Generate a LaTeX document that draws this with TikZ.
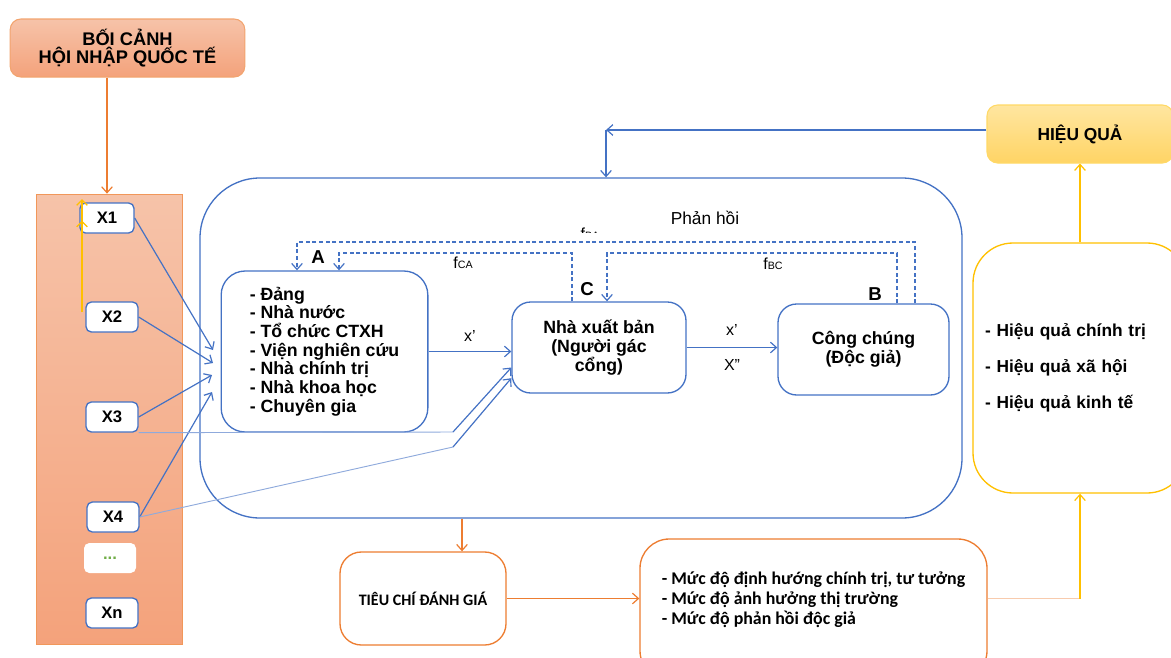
\documentclass[tikz,border=0pt]{standalone}
\usepackage{fontspec}
\setmainfont{Liberation Sans}
\newfontfamily\calibfont{Carlito}
\usepackage{tikz}
\usetikzlibrary{arrows.meta,positioning}

\definecolor{bluel}{HTML}{4472C4}
\definecolor{lightbl}{HTML}{8FAADC}
\definecolor{orl}{HTML}{ED7D31}
\definecolor{lightor}{HTML}{F8CBAD}
\definecolor{yel}{HTML}{FFC000}
\definecolor{saltop}{HTML}{F6C3A9}
\definecolor{salbot}{HTML}{F4A27B}
\definecolor{goldtop}{HTML}{FFE6A0}
\definecolor{goldbot}{HTML}{FFD465}
\definecolor{dotgreen}{HTML}{70AD47}

\begin{document}
\begin{tikzpicture}[x=0.75pt, y=-0.75pt, >={Straight Barb[length=4.5pt,width=8pt]}]
    % Define styles
    \tikzstyle{xbox} = [rectangle, draw=bluel, line width=1pt, fill=white, rounded corners=4pt, minimum width=39pt, minimum height=22.5pt, font=\fontsize{12.5}{14}\selectfont\bfseries]
    \tikzstyle{actor} = [rectangle, draw=bluel, line width=1pt, rounded corners=14pt, align=center, font=\fontsize{13.3}{14}\selectfont\bfseries]
    \tikzstyle{obox} = [rectangle, draw=orl, line width=1pt, fill=white, rounded corners=16pt, font=\calibfont\fontsize{12}{15}\selectfont\bfseries]
    \tikzstyle{tag} = [font=\fontsize{14}{16}\selectfont\bfseries]
    \tikzstyle{lbl} = [font=\fontsize{12}{14}\selectfont]
    \tikzstyle{line} = [draw=bluel, line width=0.9pt, ->]
    \tikzstyle{faint} = [draw=lightbl, line width=0.7pt]
    \tikzstyle{fb} = [draw=bluel, line width=0.9pt, dash pattern=on 3pt off 2pt, ->]
    \tikzstyle{oline} = [draw=orl, line width=0.9pt, ->]
    \tikzstyle{yline} = [draw=yel, line width=0.9pt, ->]

    \useasboundingbox (0,0) rectangle (1171,657);

    % Place nodes
    \node [rectangle, draw=orl!70, line width=0.8pt, rounded corners=8pt, top color=saltop, bottom color=salbot, minimum width=176pt, minimum height=43.5pt, align=center, font=\fontsize{13.7}{14}\selectfont\bfseries] (context) at (127.5,48) {BỐI CẢNH\\HỘI NHẬP QUỐC TẾ};
    \node [rectangle, draw=orl!80, line width=0.8pt, top color=saltop, bottom color=salbot, minimum width=110pt, minimum height=338pt] (factors) at (109.5,419.5) {};
    \node [xbox, minimum width=40.5pt] (x1) at (107,218) {X1};
    \node [xbox] (x2) at (112,317) {X2};
    \node [xbox] (x3) at (112,417) {X3};
    \node [xbox] (x4) at (113,517) {X4};
    \node [xbox, draw=none, text=dotgreen] (xdots) at (110,558) {...};
    \node [xbox] (xn) at (112,613) {Xn};

    \node [rectangle, draw=bluel, line width=1pt, rounded corners=45pt, minimum width=571.5pt, minimum height=255pt] (system) at (581,348) {};
    \node [font=\fontsize{13}{14}\selectfont] (feedback) at (705,218) {Phản hồi};

    \node [actor, rounded corners=18pt, minimum width=155pt, minimum height=120.75pt, align=left] (boxA) at (324.5,351.5) {- Đảng\\- Nhà nước\\- Tổ chức CTXH\\- Viện nghiên cứu\\- Nhà chính trị\\- Nhà khoa học\\- Chuyên gia};
    \node [actor, minimum width=130.5pt, minimum height=68.25pt] (boxC) at (599,347.5) {Nhà xuất bản\\(Người gác\\cổng)};
    \node [actor, minimum width=128.25pt, minimum height=68.25pt] (boxB) at (863.5,349.5) {Công chúng\\(Độc giả)};
    \node [tag] (tagA) at (318,257) {A};
    \node [tag] (tagC) at (587,289) {C};
    \node [tag] (tagB) at (875,294) {B};

    \node [rectangle, draw=yel!60, line width=0.8pt, rounded corners=8pt, top color=goldtop, bottom color=goldbot, minimum width=139.5pt, minimum height=43.5pt, font=\fontsize{13}{14}\selectfont\bfseries] (effect) at (1080,134) {HIỆU QUẢ};
    \node [rectangle, draw=yel, line width=1pt, rounded corners=30pt, text width=142.5pt, inner xsep=9pt, minimum height=187.5pt, align=left, font=\fontsize{13}{27}\selectfont\bfseries] (results) at (1080,368) {- Hiệu quả chính trị\\- Hiệu quả xã hội\\- Hiệu quả kinh tế};

    \node [obox, minimum width=124.5pt, minimum height=69.75pt] (criteria) at (423,598.5) {TIÊU CHÍ ĐÁNH GIÁ};
    \node [obox, rounded corners=22pt, minimum width=260.25pt, minimum height=105.75pt, font=\calibfont\fontsize{13.4}{15}\selectfont\bfseries] (measures) at (813.5,609.5) {\raisebox{6.5pt}[\height][\depth]{\begin{tabular}{@{}l@{}}- Mức độ định hướng chính trị, tư tưởng\\- Mức độ ảnh hưởng thị trường\\- Mức độ phản hồi độc giả\end{tabular}}};

    % Draw edges
    \path [oline] (context.south -| x1) -- (factors.north -| x1);
    \coordinate (ylow) at (82,312);
    \coordinate (yhigh) at (82,199);
    \path [draw=yel, line width=1pt, -{Straight Barb[length=4pt,width=8pt,sep=11pt]Straight Barb[length=4pt,width=8pt]}] (ylow) -- (yhigh);

    \coordinate (in1) at (213,350);
    \coordinate (in2) at (213,363);
    \coordinate (in3) at (212,375);
    \coordinate (in4) at (212,392);
    \path [line] (x1.east) -- (in1);
    \path [line] (x2.east) -- (in2);
    \path [line] (x3.east) -- (in3);
    \path [line] (x4.east) -- (in4);

    \coordinate (bend3) at (453,432);
    \coordinate (bend4) at (453,447);
    \path [faint] (x3.south east) -- (bend3);
    \path [line] (bend3) -- ([yshift=-15pt]boxC.west);
    \path [faint] (x4.east) -- (bend4);
    \path [line] (bend4) -- ([yshift=-23pt]boxC.west);

    \path [line] (boxA.east) -- (boxA.east -| boxC.west) node [lbl, midway, above=4pt] {x’};
    \path [line] (boxC.east) -- (boxC.east -| boxB.west) node [lbl, midway, above=5pt] {x’} node [lbl, midway, below=5pt] {X”};

    \coordinate (baTop) at (297,242);
    \coordinate (caTop) at (339,253);
    \coordinate (bcTop) at (607,253);
    \path [fb] ([xshift=38.6pt]boxB.north) |- (baTop) -- (baTop |- boxA.north);
    \path [fb] ([xshift=-20.25pt]boxC.north) |- (caTop) -- (caTop |- boxA.north);
    \path [fb] ([xshift=25.1pt]boxB.north) |- (bcTop) -- (bcTop |- boxC.north);
    \node [lbl] (fCA) at (463,263) {f{\fontsize{8}{9}\selectfont CA}};
    \node [lbl] (fBC) at (773,264) {f{\fontsize{8}{9}\selectfont BC}};
    \begin{scope}
        \clip (560,220) rectangle (620,232);
        \node [lbl, anchor=base] (fBA) at (590,239) {f{\fontsize{8}{9}\selectfont BA}};
    \end{scope}

    \coordinate (corner) at (606,130);
    \path [line] ([yshift=3pt]effect.west) -- (corner);
    \path [line] (corner) -- (corner |- system.north);
    \path [yline] (results.north) -- (effect.south);

    \coordinate (critIn) at ([xshift=29.25pt]criteria.north);
    \path [oline] (critIn |- system.south) -- (critIn);
    \path [oline] (criteria.east) -- (criteria.east -| measures.west);
    \coordinate (turn) at (criteria.east -| results.south);
    \path [draw=lightor, line width=1pt] (criteria.east -| measures.east) -- (turn);
    \path [yline] (turn) -- (results.south);
\end{tikzpicture}
\end{document}
